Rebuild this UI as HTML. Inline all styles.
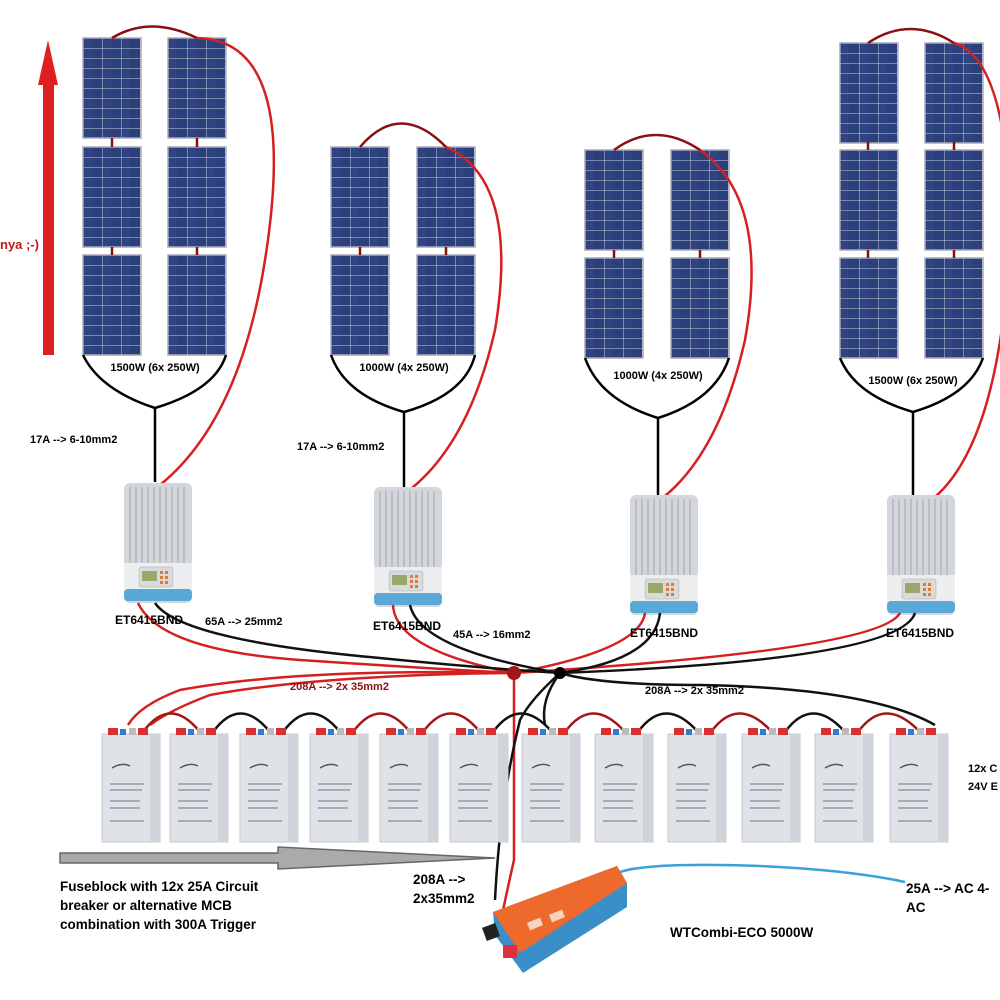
<!DOCTYPE html>
<html><head><style>
html,body{margin:0;padding:0;background:#fff;}
svg{display:block;}
text{font-family:"Liberation Sans",Arial,sans-serif;font-weight:bold;}
</style></head><body>
<svg width="1000" height="1000" viewBox="0 0 1000 1000" xmlns="http://www.w3.org/2000/svg">
<defs>
<pattern id="cells" width="19" height="10" patternUnits="userSpaceOnUse">
<rect width="19" height="10" fill="#2b3f7a"/>
<rect x="2" y="1" width="7" height="8" fill="#34488a" opacity="0.6"/>
<path d="M0 0H19M0 0V10" stroke="#c8d0e0" stroke-width="1"/>
</pattern>
<g id="panel">
<rect x="0" y="0" width="58" height="100" fill="url(#cells)" stroke="#aab" stroke-width="1.5"/>
</g>
<g id="ctrl">
<rect x="0" y="0" width="68" height="120" rx="6" fill="#d3d6da"/>
<g stroke="#b3b7bc" stroke-width="1.5">
<path d="M6 4V80M12 4V80M18 4V80M24 4V80M30 4V80M36 4V80M42 4V80M48 4V80M54 4V80M60 4V80"/>
</g>
<rect x="0" y="80" width="68" height="30" fill="#eceef0"/>
<rect x="15" y="84" width="34" height="20" rx="2" fill="#d8dadc" stroke="#aaa" stroke-width="0.5"/>
<rect x="18" y="88" width="15" height="10" fill="#9aa86c"/>
<rect x="36" y="88" width="3" height="3" fill="#e07a30"/><rect x="41" y="88" width="3" height="3" fill="#e07a30"/>
<rect x="36" y="93" width="3" height="3" fill="#e07a30"/><rect x="41" y="93" width="3" height="3" fill="#e07a30"/>
<rect x="36" y="98" width="3" height="3" fill="#e07a30"/><rect x="41" y="98" width="3" height="3" fill="#e07a30"/>
<rect x="0" y="106" width="68" height="12" rx="4" fill="#5aa8d8"/>
</g>
<g id="bat">
<rect x="0" y="8" width="58" height="108" fill="#dfe3e8" stroke="#c5cad0"/>
<rect x="48" y="8" width="10" height="108" fill="#cfd4da"/>
<rect x="6" y="2" width="10" height="7" fill="#d83030"/>
<rect x="36" y="2" width="10" height="7" fill="#d83030"/>
<rect x="18" y="3" width="6" height="6" fill="#3a78c8"/>
<rect x="27" y="2" width="7" height="7" fill="#bbb"/>
<path d="M10 42Q20 36 28 40" stroke="#556" stroke-width="1.5" fill="none"/>
<path d="M8 58H42M8 64H40M8 75H38M8 82H38M8 95H42" stroke="#889" stroke-width="1.2"/>
</g>
</defs>

<!-- red arrow left -->
<rect x="43" y="80" width="11" height="275" fill="#e02020"/>
<polygon points="48,40 38,85 58,85" fill="#e02020"/>
<text x="0" y="249" font-size="13" fill="#c01818">nya ;-)</text>

<!-- panels group1 -->
<use href="#panel" x="83" y="38"/><use href="#panel" x="168" y="38"/>
<use href="#panel" x="83" y="147"/><use href="#panel" x="168" y="147"/>
<use href="#panel" x="83" y="255"/><use href="#panel" x="168" y="255"/>
<!-- group2 -->
<use href="#panel" x="331" y="147"/><use href="#panel" x="417" y="147"/>
<use href="#panel" x="331" y="255"/><use href="#panel" x="417" y="255"/>
<!-- group3 -->
<use href="#panel" x="585" y="150"/><use href="#panel" x="671" y="150"/>
<use href="#panel" x="585" y="258"/><use href="#panel" x="671" y="258"/>
<!-- group4 -->
<use href="#panel" x="840" y="43"/><use href="#panel" x="925" y="43"/>
<use href="#panel" x="840" y="150"/><use href="#panel" x="925" y="150"/>
<use href="#panel" x="840" y="258"/><use href="#panel" x="925" y="258"/>

<!-- short links between panels -->
<g stroke="#8a1010" stroke-width="2.5">
<path d="M112 138V147M197 138V147M112 247V255M197 247V255"/>
<path d="M360 247V255M446 247V255"/>
<path d="M614 250V258M700 250V258"/>
<path d="M868 142V150M954 142V150M868 250V258M954 250V258"/>
</g>
<!-- top loops -->
<g fill="none" stroke="#8a1010" stroke-width="2.5">
<path d="M112 38Q150 15 197 38"/>
<path d="M360 147Q400 100 446 147"/>
<path d="M614 150Q655 120 700 150"/>
<path d="M868 43Q910 15 954 43"/>
</g>
<!-- long red wires -->
<g fill="none" stroke="#d42020" stroke-width="2.5">
<path d="M197 38Q300 40 265 260Q240 420 160 485"/>
<path d="M446 147Q520 180 495 330Q470 440 412 488"/>
<path d="M700 150Q770 200 745 340Q720 450 665 496"/>
<path d="M954 43Q1010 60 1010 240Q1000 440 935 497"/>
</g>

<!-- funnels -->
<g fill="none" stroke="#000" stroke-width="2.5">
<path d="M83 355Q100 390 155 408Q215 390 226 355"/><path d="M155 408V482"/>
<path d="M331 355Q345 395 404 412Q465 395 475 355"/><path d="M404 412V487"/>
<path d="M585 358Q600 400 658 418Q715 400 729 358"/><path d="M658 418V497"/>
<path d="M840 358Q855 395 913 412Q970 395 983 358"/><path d="M913 412V497"/>
</g>
<g font-size="11" fill="#000" text-anchor="middle">
<text x="155" y="371">1500W (6x 250W)</text>
<text x="404" y="371">1000W (4x 250W)</text>
<text x="658" y="379">1000W (4x 250W)</text>
<text x="913" y="384">1500W (6x 250W)</text>
</g>

<!-- controllers -->
<use href="#ctrl" x="124" y="483"/>
<use href="#ctrl" x="374" y="487"/>
<use href="#ctrl" x="630" y="495"/>
<use href="#ctrl" x="887" y="495"/>

<!-- wires to junction -->
<g fill="none" stroke="#d42020" stroke-width="2.5">
<path d="M138 603Q160 650 300 660Q420 668 514 673"/>
<path d="M393 605Q395 650 514 673"/>
<path d="M645 613Q640 650 514 673"/>
<path d="M900 613Q880 650 514 673"/>
<path d="M514 673Q300 668 180 690Q140 705 128 725"/>
<path d="M514 673Q320 675 210 695Q170 710 150 725"/>
<path d="M514 673V860Q505 900 500 925"/>
</g>
<g fill="none" stroke="#111" stroke-width="2.5">
<path d="M155 603Q180 640 380 658Q480 668 560 673"/>
<path d="M410 605Q420 650 560 673"/>
<path d="M660 613Q655 660 560 673"/>
<path d="M915 613Q900 660 560 673"/>
<path d="M560 673Q600 685 700 685Q870 688 935 725"/>
<path d="M560 673Q530 700 520 720Q500 800 495 900"/>
<path d="M560 673Q540 700 545 725"/>
</g>
<circle cx="514" cy="673" r="7" fill="#a01818"/>
<circle cx="560" cy="673" r="6" fill="#000"/>

<!-- battery interconnects -->
<g fill="none" stroke-width="2.5">
<path d="M143 732Q170 695 200 732" stroke="#a01818"/>
<path d="M213 732Q240 695 270 732" stroke="#111"/>
<path d="M283 732Q310 695 340 732" stroke="#111"/>
<path d="M353 732Q380 695 410 732" stroke="#a01818"/>
<path d="M423 732Q450 695 480 732" stroke="#a01818"/>
<path d="M493 732Q520 695 552 732" stroke="#111"/>
<path d="M565 732Q592 695 625 732" stroke="#a01818"/>
<path d="M638 732Q665 695 698 732" stroke="#111"/>
<path d="M711 732Q738 695 772 732" stroke="#a01818"/>
<path d="M785 732Q812 695 845 732" stroke="#111"/>
<path d="M858 732Q885 695 920 732" stroke="#a01818"/>
</g>
<use href="#bat" x="102" y="726"/>
<use href="#bat" x="170" y="726"/>
<use href="#bat" x="240" y="726"/>
<use href="#bat" x="310" y="726"/>
<use href="#bat" x="380" y="726"/>
<use href="#bat" x="450" y="726"/>
<use href="#bat" x="522" y="726"/>
<use href="#bat" x="595" y="726"/>
<use href="#bat" x="668" y="726"/>
<use href="#bat" x="742" y="726"/>
<use href="#bat" x="815" y="726"/>
<use href="#bat" x="890" y="726"/>

<!-- labels -->
<g font-size="11" fill="#000">
<text x="30" y="443">17A --&gt; 6-10mm2</text>
<text x="297" y="450">17A --&gt; 6-10mm2</text>
<text x="115" y="624" font-size="12">ET6415BND</text>
<text x="205" y="625">65A --&gt; 25mm2</text>
<text x="373" y="630" font-size="12">ET6415BND</text>
<text x="453" y="638">45A --&gt; 16mm2</text>
<text x="630" y="637" font-size="12">ET6415BND</text>
<text x="886" y="637" font-size="12">ET6415BND</text>
<text x="968" y="772">12x C</text>
<text x="968" y="790">24V E</text>
</g>
<text x="290" y="690" font-size="11" fill="#8a1010">208A --&gt; 2x 35mm2</text>
<text x="645" y="694" font-size="11" fill="#000">208A --&gt; 2x 35mm2</text>

<!-- grey arrow -->
<polygon points="60,853 278,853 278,847 495,858 278,869 278,863 60,863" fill="#aaa" stroke="#666" stroke-width="1.5"/>

<g font-size="13.5" fill="#000">
<text x="60" y="891">Fuseblock with 12x 25A Circuit</text>
<text x="60" y="910">breaker or alternative MCB</text>
<text x="60" y="929">combination with 300A Trigger</text>
<text x="413" y="884">208A --&gt;</text>
<text x="413" y="903">2x35mm2</text>
<text x="670" y="937">WTCombi-ECO 5000W</text>
<text x="906" y="893">25A --&gt; AC 4-</text>
<text x="906" y="912">AC</text>
</g>

<!-- blue AC line -->
<path d="M620 872Q650 862 760 866Q850 870 905 882" fill="none" stroke="#3aa0d8" stroke-width="2.5"/>

<!-- inverter -->
<polygon points="493,912 617,866 627,883 627,907 523,973 495,935" fill="#3a8fc8"/>
<polygon points="493,912 617,866 627,883 520,953" fill="#ee6a2c"/>
<rect x="520" y="885" width="40" height="8" fill="#fff" opacity="0.7" transform="rotate(-22 540 889)"/>
<rect x="528" y="920" width="14" height="8" fill="#fff" opacity="0.7" transform="rotate(-22 535 924)"/>
<rect x="550" y="912" width="14" height="8" fill="#fff" opacity="0.7" transform="rotate(-22 557 916)"/>
<rect x="484" y="925" width="14" height="14" fill="#222" transform="rotate(-20 491 932)"/>
<rect x="503" y="945" width="14" height="13" fill="#e03040"/>
</svg>
</body></html>
